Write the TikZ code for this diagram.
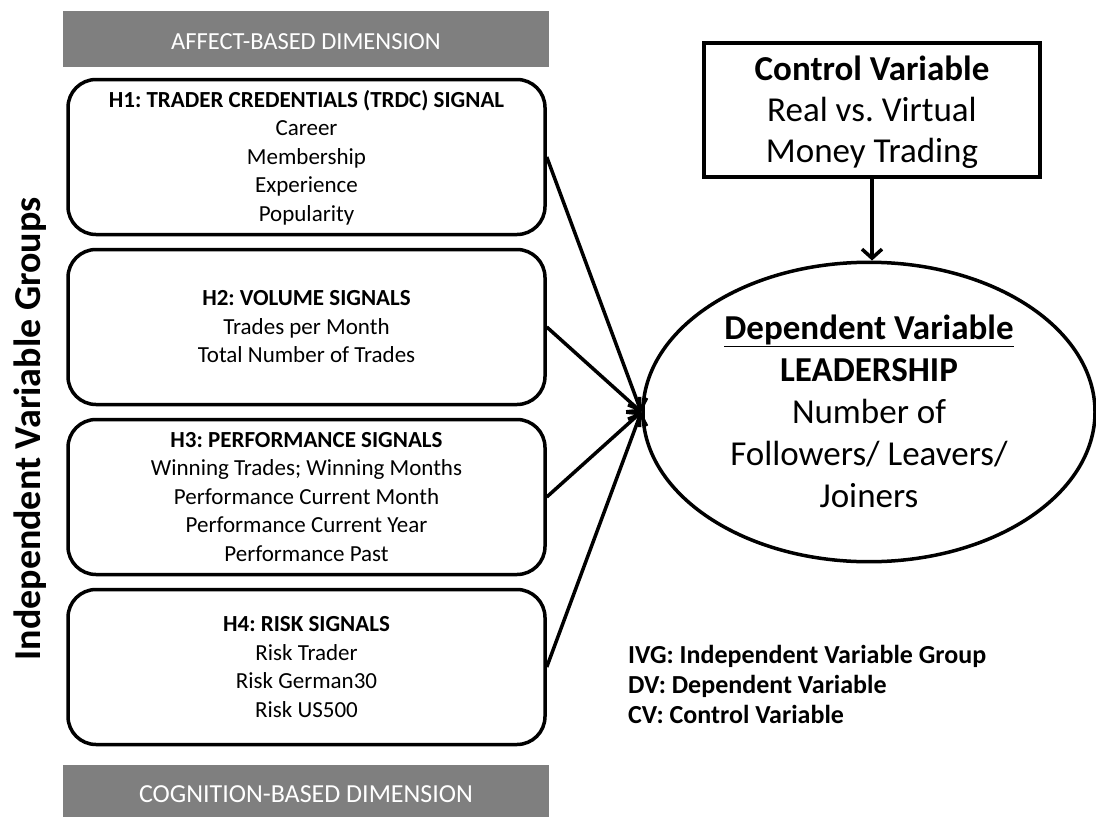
\documentclass[tikz,border=0pt]{standalone}
\usepackage{fontspec}
\setmainfont{Carlito}
\usetikzlibrary{shapes.geometric,arrows.meta}
\definecolor{bargray}{RGB}{127,127,127}
\frenchspacing
% struts: centre the block between cap top of first line and last baseline
\newcommand{\topstrut}{\rule{0pt}{0.95em}}
\newcommand{\botstrut}{\rule[-0.3em]{0pt}{0pt}}

\tikzset{
	dimbar/.style={fill=bargray, text=white, minimum width=486pt, inner sep=0pt, text depth=0pt},
	signalbox/.style={draw, line width=3.5pt, rounded corners=28pt, minimum width=477pt, minimum height=155pt, align=center, font=\fontsize{23}{28.5}\selectfont},
	link/.style={line width=3.5pt, -{Straight Barb[length=9pt,width=20pt]}}
}

\begin{document}
\begin{tikzpicture}[x=1pt,y=-1pt]
	\useasboundingbox (0,0) rectangle (1096,817);
	% dimension bars
	\node[dimbar, minimum height=56pt, text height=20pt, font=\fontsize{24.5}{28}\selectfont] (affect) at (306,39) {AFFECT-BASED DIMENSION};
	\node[dimbar, minimum height=52pt, text height=23pt, font=\fontsize{26}{30}\selectfont] (cognition) at (306,791) {COGNITION-BASED DIMENSION};
	\node[rotate=90, inner sep=0pt, font=\fontsize{38}{42}\selectfont\bfseries] (ivg) at (30,429) {Independent Variable Groups};
	% signal groups
	\node[signalbox] (h1) at (306.5,157) {\topstrut\textbf{H1: TRADER CREDENTIALS (TRDC) SIGNAL}\\Career\\Membership\\Experience\\Popularity\botstrut};
	\node[signalbox] (h2) at (306.5,327) {\topstrut\textbf{H2: VOLUME SIGNALS}\\Trades per Month\\Total Number of Trades\botstrut};
	\node[signalbox] (h3) at (306.5,497) {\topstrut\textbf{H3: PERFORMANCE SIGNALS}\\Winning Trades; Winning Months\\Performance Current Month\\Performance Current Year\\Performance Past\botstrut};
	\node[signalbox] (h4) at (306.5,667) {\topstrut\textbf{H4: RISK SIGNALS}\\Risk Trader\\Risk German30\\Risk US500\botstrut};
	% control and dependent variable
	\node[draw, line width=3.5pt, minimum width=336pt, minimum height=134pt, align=center, font=\fontsize{35}{41}\selectfont] (cv) at (872,110) {\topstrut\textbf{Control Variable}\\Real vs. Virtual\\Money Trading\botstrut};
	\node[draw, ellipse, line width=3.5pt, minimum width=452pt, minimum height=290pt, inner sep=0pt, align=center, font=\fontsize{35}{42}\selectfont] (dv) at (869,412) {\topstrut\textbf{\underline{Dependent Variable}}\\\textbf{LEADERSHIP}\\Number of\\Followers/ Leavers/\\Joiners\botstrut};
	% legend (base = last line)
	\node[anchor=base west, inner sep=0pt, align=left, font=\fontsize{26}{30}\selectfont\bfseries] (legend) at (628,723) {IVG: Independent Variable Group\\DV: Dependent Variable\\CV: Control Variable};
	% arrows
	\foreach \h in {h1,h2,h3,h4}{
		\draw[link] (\h.east) -- (dv.west);
	}
	\draw[link] (cv.south) -- (cv.south |- dv.north);
\end{tikzpicture}
\end{document}
